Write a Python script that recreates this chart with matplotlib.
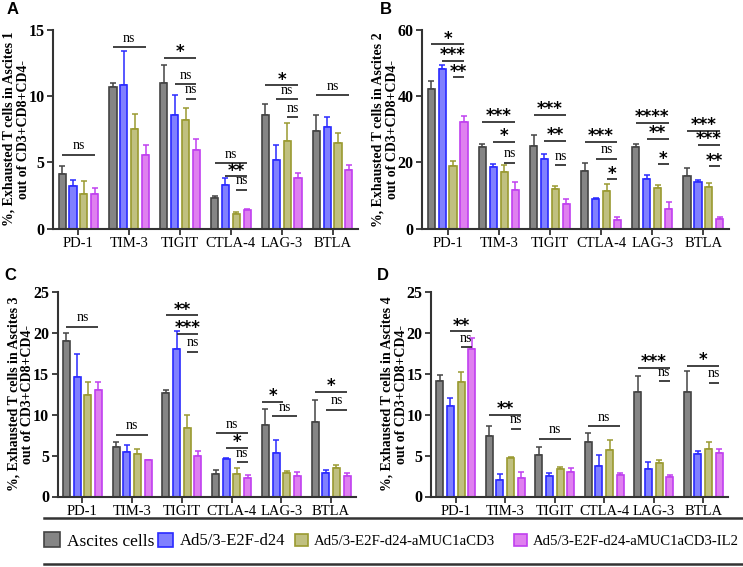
import numpy as np
import matplotlib
matplotlib.use("Agg")
import matplotlib.pyplot as plt
from matplotlib.patches import Rectangle
from matplotlib.lines import Line2D

markers = ["PD-1", "TIM-3", "TIGIT", "CTLA-4", "LAG-3", "BTLA"]
groups = ["Ascites cells", "Ad5/3-E2F-d24", "Ad5/3-E2F-d24-aMUC1aCD3", "Ad5/3-E2F-d24-aMUC1aCD3-IL2"]

# panel A - Ascites 1 (rows = groups, cols = markers)
mean_A = [[4.1, 10.7, 11.0, 2.3, 8.6, 7.35],
          [3.2, 10.85, 8.6, 3.3, 5.2, 7.65],
          [2.6, 7.5, 8.2, 1.1, 6.6, 6.5],
          [2.65, 5.6, 5.95, 1.4, 3.8, 4.4]]
err_A = [[0.6, 0.25, 1.3, 0.2, 0.8, 1.2],
         [0.5, 2.55, 1.5, 0.55, 1.15, 0.75],
         [1.0, 1.15, 0.9, 0.2, 1.35, 0.7],
         [0.45, 0.7, 0.85, 0.1, 0.4, 0.4]]
sig_A = [(0, 0, 3, 5.6, "ns"), (1, 0, 3, 13.65, "ns"),
         (2, 0, 3, 12.85, "*"), (2, 1, 3, 10.9, "ns"), (2, 2, 3, 9.8, "ns"),
         (3, 0, 3, 4.95, "ns"), (3, 1, 3, 3.95, "**"), (3, 2, 3, 2.95, "ns"),
         (4, 0, 3, 10.8, "*"), (4, 1, 3, 9.75, "ns"), (4, 2, 3, 8.4, "ns"),
         (5, 0, 3, 10.05, "ns")]

# panel B - Ascites 2
mean_B = [[42.0, 24.8, 25.1, 17.4, 24.8, 15.9],
          [48.1, 18.6, 21.2, 9.0, 14.9, 14.0],
          [18.8, 17.1, 11.9, 11.3, 12.4, 12.6],
          [32.1, 11.7, 7.4, 2.7, 6.1, 2.9]]
err_B = [[2.6, 0.9, 3.1, 2.5, 0.9, 2.5],
         [1.2, 0.8, 1.4, 0.4, 1.4, 0.6],
         [1.8, 2.0, 1.0, 2.2, 0.8, 1.1],
         [1.9, 2.3, 1.5, 0.8, 2.1, 0.6]]
sig_B = [(0, 0, 3, 55.5, "*"), (0, 1, 3, 50.6, "***"), (0, 2, 3, 45.6, "**"),
         (1, 0, 3, 32.2, "***"), (1, 1, 3, 26.3, "*"), (1, 2, 3, 19.9, "ns"),
         (2, 0, 3, 34.3, "***"), (2, 1, 3, 26.5, "**"), (2, 2, 3, 19.1, "ns"),
         (3, 0, 3, 26.3, "***"), (3, 1, 3, 21.1, "ns"), (3, 2, 3, 14.9, "*"),
         (4, 0, 3, 31.9, "****"), (4, 1, 3, 27.0, "**"), (4, 2, 3, 19.4, "*"),
         (5, 0, 3, 29.4, "***"), (5, 1, 3, 25.2, "***"), (5, 2, 3, 18.8, "**")]

# panel C - Ascites 3
mean_C = [[18.95, 6.0, 12.6, 2.8, 8.75, 9.1],
          [14.55, 5.4, 18.0, 4.55, 5.3, 2.9],
          [12.35, 5.15, 8.4, 2.7, 2.9, 3.45],
          [13.05, 4.4, 4.9, 2.25, 2.55, 2.45]]
err_C = [[1.0, 0.6, 0.35, 0.4, 1.95, 2.7],
         [2.9, 0.9, 2.15, 0.2, 1.6, 0.3],
         [1.6, 0.7, 1.6, 0.8, 0.2, 0.45],
         [0.95, 0.1, 0.7, 0.35, 0.45, 0.4]]
sig_C = [(0, 0, 3, 20.7, "ns"), (1, 0, 3, 7.55, "ns"),
         (2, 0, 3, 22.1, "**"), (2, 1, 3, 19.8, "***"), (2, 2, 3, 17.7, "ns"),
         (3, 0, 3, 7.7, "ns"), (3, 1, 3, 5.9, "*"), (3, 2, 3, 4.2, "ns"),
         (4, -0.3, 1.7, 11.5, "*"), (4, 0.6, 3, 9.8, "ns"),
         (5, 0, 3, 12.8, "*"), (5, 1, 3, 10.6, "ns")]

# panel D - Ascites 4
mean_D = [[14.1, 7.4, 5.1, 6.7, 12.7, 12.8],
          [11.1, 2.05, 2.55, 3.75, 3.35, 5.2],
          [14.0, 4.7, 3.4, 5.65, 4.1, 5.85],
          [18.05, 2.3, 3.0, 2.6, 2.4, 5.3]]
err_D = [[0.7, 1.2, 1.0, 1.05, 2.0, 2.5],
         [0.9, 0.7, 0.3, 1.3, 0.85, 0.3],
         [1.2, 0.1, 0.15, 1.2, 0.3, 0.75],
         [1.3, 0.75, 0.45, 0.25, 0.2, 0.55]]
sig_D = [(0, 1, 3, 20.15, "**"), (0, 2, 3, 18.2, "ns"),
         (1, 0, 3, 10.0, "**"), (1, 2, 3, 8.25, "ns"),
         (2, 0, 3, 7.05, "ns"), (3, 0, 3, 8.55, "ns"),
         (4, 0, 3, 15.7, "***"), (4, 2, 3, 14.05, "ns"),
         (5, 0, 3, 15.9, "*"), (5, 2, 3, 13.9, "ns")]

fills = ["#858585", "#8080ff", "#c0c080", "#df80ef"]
edges = ["#444444", "#2a2aff", "#9a9a30", "#c040f0"]

serif = "Liberation Serif"
offs = np.array([-0.32, -0.107, 0.107, 0.32])
bw = 0.14

fig = plt.figure(figsize=(7.43, 5.67), dpi=100)
W, H = 743, 567


def box(l, r, t, b):
    return [l / W, 1 - b / H, (r - l) / W, (b - t) / H]


def barpos(m, k):
    # position of bar k (may be fractional / outside 0..3) within marker group m
    return m + offs[0] + k * (offs[3] - offs[0]) / 3


def panel(rect, means, errs, sigs, ymax, step, num, letter, lx, ly):
    ax = fig.add_axes(rect)
    x = np.arange(len(markers))
    for g in range(4):
        ax.bar(x + offs[g], means[g], bw, color=fills[g], edgecolor=edges[g], linewidth=1.2, zorder=2)
        ax.errorbar(x + offs[g], means[g], yerr=[np.zeros(6), errs[g]], fmt="none",
                    ecolor=edges[g], elinewidth=1.1, capsize=2.2, capthick=1.1, zorder=1)
    for m, i, j, y, lab in sigs:
        x0 = barpos(m, i)
        x1 = barpos(m, j)
        ax.plot([x0, x1], [y, y], color="#333333", lw=1.3, solid_capstyle="butt", clip_on=False)
        xc = (x0 + x1) / 2
        if lab == "ns":
            ax.annotate(lab, (xc, y), xytext=(0, 1.8), textcoords="offset points",
                        ha="center", va="bottom", fontsize=10, family=serif, annotation_clip=False)
        else:
            ax.annotate(lab, (xc, y), xytext=(0, -2.3), textcoords="offset points",
                        ha="center", va="bottom", fontsize=12, fontweight="bold",
                        family="DejaVu Sans", annotation_clip=False)
    ax.set_xlim(-0.5, 5.5)
    ax.set_ylim(0, ymax)
    ax.set_yticks(np.arange(0, ymax + 0.1, step))
    ax.set_xticks(x)
    ax.set_xticklabels(markers, fontsize=10.5, family=serif)
    for t in ax.get_yticklabels():
        t.set_fontsize(11.5)
        t.set_fontweight("bold")
        t.set_family(serif)
    ax.spines["top"].set_visible(False)
    ax.spines["right"].set_visible(False)
    for s in ["left", "bottom"]:
        ax.spines[s].set_linewidth(1.5)
        ax.spines[s].set_color("#333333")
    ax.tick_params(direction="out", length=4, width=1.3, color="#333333", pad=2)
    ax.set_ylabel("%%, Exhausted T cells in Ascites %d\nout of CD3+CD8+CD4-" % num,
                  fontsize=10, fontweight="bold", family=serif, linespacing=1.1)
    wpx = rect[2] * W
    ax.yaxis.set_label_coords(-23 / wpx, 0.5)
    fig.text(lx / W, 1 - ly / H, letter, fontsize=12, fontweight="bold",
             family="Liberation Sans", ha="left", va="center")
    return ax


panel(box(53, 358, 29.5, 229), mean_A, err_A, sig_A, 15, 5, 1, "A", 7, 10)
panel(box(422, 729, 29.5, 229), mean_B, err_B, sig_B, 60, 20, 2, "B", 380, 10)
panel(box(57.5, 356, 291.7, 496.5), mean_C, err_C, sig_C, 25, 5, 3, "C", 4, 276)
panel(box(431, 728, 291.7, 496.5), mean_D, err_D, sig_D, 25, 5, 4, "D", 377, 276)

# legend box lines
for yy in [518, 564]:
    fig.add_artist(Line2D([44 / W, 1.0], [1 - yy / H, 1 - yy / H], color="#333333", lw=1.8))

leg_x = [44, 158, 295, 514]
leg_size = [12.5, 12, 10.7, 10.6]
for g in range(4):
    h = Rectangle((0, 0), 1, 1, facecolor=fills[g], edgecolor=edges[g], linewidth=1.2)
    fig.legend([h], [groups[g]], loc="center left", bbox_to_anchor=(leg_x[g] / W, 1 - 541 / H),
               frameon=False, handlelength=0.9, handleheight=0.9, handletextpad=0.4,
               borderpad=0, borderaxespad=0, prop={"family": serif, "size": leg_size[g]})

fig.savefig("out.png", dpi=100)
